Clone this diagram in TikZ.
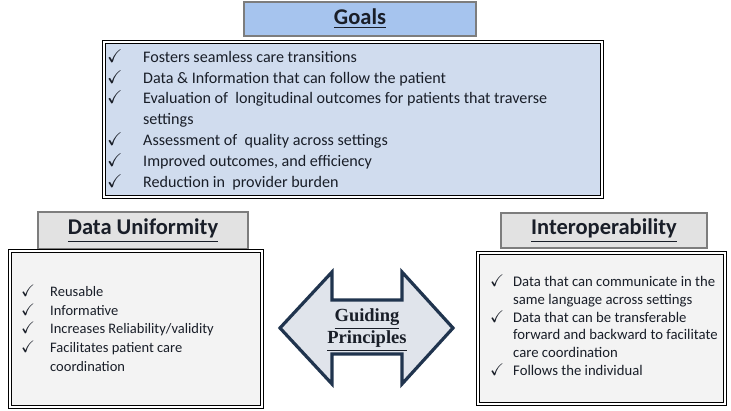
\documentclass[tikz,border=0pt]{standalone}
\usepackage{fontspec}
\usepackage{amssymb}
\setmainfont{Carlito}
\newfontfamily\gpfont{Liberation Serif}
\definecolor{goalstitle}{RGB}{166,196,238}
\definecolor{goalsfill}{RGB}{208,220,238}
\definecolor{graytitle}{RGB}{226,226,226}
\definecolor{titleedge}{RGB}{125,125,125}
\definecolor{boxfill}{RGB}{243,243,243}
\definecolor{arrowfill}{RGB}{224,228,235}
\definecolor{arrowedge}{RGB}{32,52,78}
\definecolor{inktext}{RGB}{25,30,40}
\newcommand{\ck}{\scalebox{1.15}{$\checkmark$}}
\begin{document}
\begin{tikzpicture}[x=1pt,y=-1pt,
  titlebox/.style={draw=titleedge, line width=1.8pt, inner sep=0pt,
    font=\fontsize{22.5}{27}\selectfont\bfseries, text=inktext},
  listbox/.style={draw=black, line width=1.4pt, double=white, double distance=1.2pt, inner sep=0pt},
  listtext/.style={anchor=west, inner sep=0pt, text=inktext, align=left}
]
\useasboundingbox (0,0) rectangle (731,411);

% Goals
\node[titlebox, fill=goalstitle, minimum width=232pt, minimum height=34pt] (goalsT) at (360,19) {\underline{Goals}};
\node[listbox, fill=goalsfill, minimum width=498pt, minimum height=155pt] (goalsB) at (353,119.5) {};
\node[listtext, font=\fontsize{16.1}{20.8}\selectfont] (goalsL) at (107,120.5) {%
\begin{tabular}{@{}p{36pt}@{}l@{}}
\ck & Fosters seamless care transitions\\
\ck & Data \& Information that can follow the patient\\
\ck & Evaluation of~ longitudinal outcomes for patients that traverse\\
 & settings\\
\ck & Assessment of~ quality across settings\\
\ck & Improved outcomes, and efficiency\\
\ck & Reduction in~ provider burden
\end{tabular}};

% Data Uniformity
\node[titlebox, fill=graytitle, minimum width=210pt, minimum height=37pt] (duT) at (143,230.5) {\underline{Data Uniformity}};
\node[listbox, fill=boxfill, minimum width=252pt, minimum height=156pt] (duB) at (136,329) {};
\node[listtext, font=\fontsize{14.5}{18.7}\selectfont] (duL) at (21,330) {%
\begin{tabular}{@{}p{29pt}@{}l@{}}
\ck & Reusable\\
\ck & Informative\\
\ck & Increases Reliability/validity\\
\ck & Facilitates patient care\\
 & coordination
\end{tabular}};

% Interoperability
\node[titlebox, fill=graytitle, minimum width=206pt, minimum height=35pt] (ioT) at (604,230.5) {\underline{Interoperability}};
\node[listbox, fill=boxfill, minimum width=247pt, minimum height=151pt] (ioB) at (601.5,328.5) {};
\node[listtext, font=\fontsize{14.7}{17.8}\selectfont] (ioL) at (490,327.5) {%
\begin{tabular}{@{}p{23pt}@{}l@{}}
\ck & Data that can communicate in the\\
 & same language across settings\\
\ck & Data that can be transferable\\
 & forward and backward to facilitate\\
 & care coordination\\
\ck & Follows the individual
\end{tabular}};

% Guiding principles double arrow
\draw[arrowedge, line width=3.2pt, line join=miter, fill=arrowfill]
  (280,328) -- (332,272) -- (332,300) -- (402,300) -- (402,272) -- (453,328)
  -- (402,384) -- (402,354) -- (332,354) -- (332,384) -- cycle;
\node[align=center, inner sep=0pt, text=inktext,
  font=\gpfont\bfseries\fontsize{18.5}{22}\selectfont] (gp) at (367,330)
  {\underline{Guiding}\\ \underline{Principles}};
\end{tikzpicture}
\end{document}
